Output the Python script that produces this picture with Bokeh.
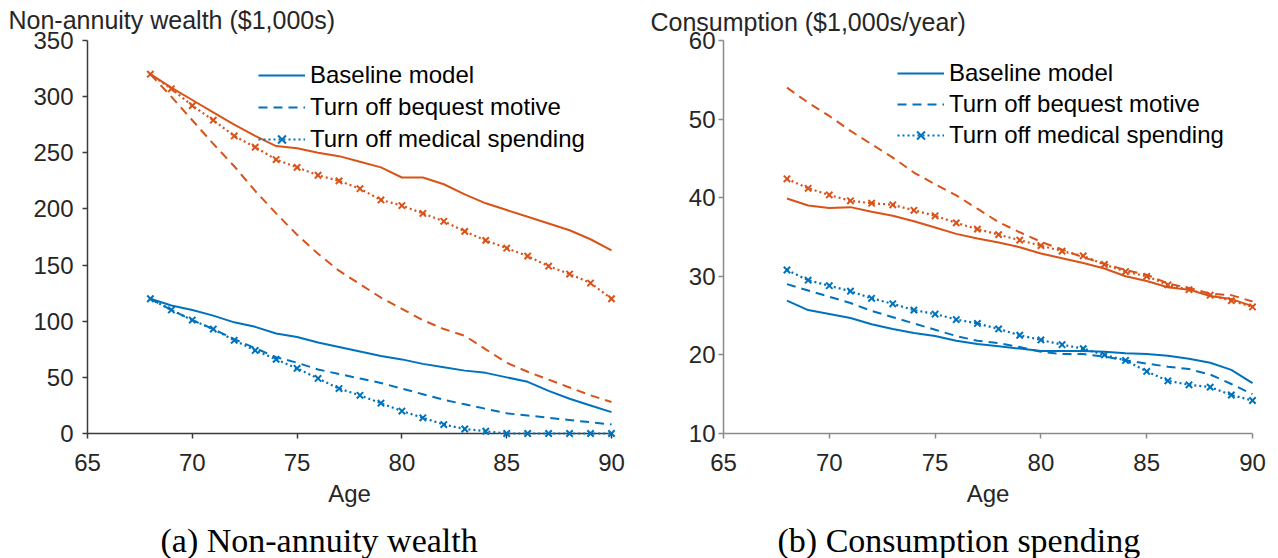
from bokeh.plotting import figure
from bokeh.layouts import row, column
from bokeh.models import Legend, LegendItem, Label, FixedTicker, Range1d
from bokeh.embed import file_html
from bokeh.resources import INLINE

ages = list(range(68, 91))

# Panel (a): non-annuity wealth ($1,000s) -- upper (orange) and lower (blue) groups
wealth_base_hi = [320, 308, 297, 286, 275, 265, 256, 254, 250, 247, 242, 237, 228, 228, 222, 213, 205, 199, 193, 187, 181, 173, 163]
wealth_nobeq_hi = [320, 300, 279, 258, 238, 216, 196, 177, 160, 145, 133, 121, 111, 101, 93, 87, 75, 63, 55, 48, 41, 34, 28]
wealth_nomed_hi = [320, 307, 292, 279, 265, 255, 244, 237, 230, 225, 218, 208, 203, 196, 189, 180, 172, 165, 158, 149, 142, 134, 120]
wealth_base_lo = [120, 114, 110, 105, 99, 95, 89, 86, 81, 77, 73, 69, 66, 62, 59, 56, 54, 50, 46, 38, 31, 25, 19]
wealth_nobeq_lo = [120, 110, 101, 93, 84, 76, 68, 63, 57, 53, 49, 45, 40, 35, 30, 26, 22, 18, 16, 14, 12, 10, 8]
wealth_nomed_lo = [120, 110, 101, 93, 83, 74, 66, 58, 49, 40, 34, 27, 20, 14, 8, 4, 2, 0, 0, 0, 0, 0, 0]

# Panel (b): consumption ($1,000s/year)
cons_base_hi = [39.9, 39.0, 38.7, 38.8, 38.2, 37.7, 37.0, 36.2, 35.4, 34.8, 34.3, 33.7, 32.9, 32.3, 31.7, 31.0, 30.0, 29.4, 28.6, 28.3, 27.5, 27.1, 26.2]
cons_nobeq_hi = [54.0, 52.1, 50.4, 48.5, 46.8, 45.1, 43.2, 41.7, 40.3, 38.6, 36.9, 35.6, 34.4, 33.4, 32.4, 31.6, 30.8, 30.2, 29.1, 28.5, 27.8, 27.6, 26.8]
cons_nomed_hi = [42.4, 41.2, 40.35, 39.6, 39.3, 39.1, 38.4, 37.7, 36.8, 36.0, 35.3, 34.6, 33.9, 33.2, 32.6, 31.5, 30.6, 30.0, 28.9, 28.3, 27.6, 26.9, 26.1]
cons_base_lo = [26.9, 25.7, 25.2, 24.7, 23.9, 23.3, 22.8, 22.4, 21.8, 21.4, 21.1, 20.8, 20.5, 20.5, 20.5, 20.4, 20.2, 20.1, 19.9, 19.5, 19.0, 18.1, 16.4]
cons_nobeq_lo = [29.0, 28.2, 27.4, 26.6, 25.6, 24.8, 24.0, 23.2, 22.4, 21.8, 21.5, 21.0, 20.4, 20.1, 20.1, 19.8, 19.3, 18.9, 18.5, 18.2, 17.5, 16.3, 15.0]
cons_nomed_lo = [30.8, 29.5, 28.8, 28.1, 27.2, 26.5, 25.7, 25.2, 24.5, 24.0, 23.3, 22.5, 21.9, 21.3, 20.8, 20.0, 19.3, 17.9, 16.7, 16.2, 15.9, 14.9, 14.2]

x_ticks = [65, 70, 75, 80, 85, 90]
wealth_ticks = [0, 50, 100, 150, 200, 250, 300, 350]
cons_ticks = [10, 20, 30, 40, 50, 60]
legend_labels = ["Baseline model", "Turn off bequest motive", "Turn off medical spending"]
y_titles = ["Non-annuity wealth ($1,000s)", "Consumption ($1,000s/year)"]
captions = ["(a) Non-annuity wealth", "(b) Consumption spending"]

BLUE = "#0072BD"
ORANGE = "#D95319"
SANS = "Liberation Sans"
SERIF = "Liberation Serif"
TXT = "#262626"
DASH = "9 6"
DOT = "2 3"

PAGE_W, PAGE_H = 1278, 558
W1, W2 = 648, 630
CAP_H = 45
MAIN_H = PAGE_H - CAP_H


def text_strip(width, height, texts):
    """A bare strip (frame = whole canvas, 1 data unit = 1 px) holding text labels."""
    s = figure(width=width, height=height, output_backend="svg", toolbar_location=None,
               x_range=Range1d(0, width), y_range=Range1d(0, height),
               x_axis_type=None, y_axis_type=None,
               min_border=0, min_border_left=0, min_border_right=0,
               min_border_top=0, min_border_bottom=0)
    s.outline_line_color = None
    s.grid.visible = False
    s.background_fill_color = "white"
    s.border_fill_color = "white"
    for (x, y, txt, font, size, color) in texts:
        s.add_layout(Label(x=x, y=y, text=txt, text_font=font, text_font_size=size,
                           text_color=color, text_baseline="middle", text_align="left"))
    return s


def make_panel(width, height, border_left, border_right, border_top, border_bottom,
               y_range, y_ticks, ytitle, title_offset, title_standoff,
               axis_color, tick_standoff, series, legend_loc, legend_spacing):
    p = figure(width=width, height=height, output_backend="svg", toolbar_location=None,
               x_range=Range1d(65, 90), y_range=Range1d(*y_range),
               min_border_left=border_left, min_border_right=border_right,
               min_border_top=border_top, min_border_bottom=border_bottom,
               title_location="above")
    p.outline_line_color = None
    p.grid.visible = False
    p.background_fill_color = "white"
    p.border_fill_color = "white"

    p.title.text = ytitle
    p.title.align = "left"
    p.title.vertical_align = "top"
    p.title.offset = title_offset
    p.title.standoff = title_standoff
    p.title.text_font = SANS
    p.title.text_font_size = "25px"
    p.title.text_font_style = "normal"
    p.title.text_color = TXT

    for ax in (p.xaxis[0], p.yaxis[0]):
        ax.axis_line_color = axis_color
        ax.axis_line_width = 1.5
        ax.major_tick_line_color = axis_color
        ax.major_tick_line_width = 1.5
        ax.major_tick_out = 5
        ax.major_tick_in = 0
        ax.minor_tick_line_color = None
        ax.major_label_text_font = SANS
        ax.major_label_text_font_size = "24px"
        ax.major_label_text_color = TXT
    p.xaxis[0].ticker = FixedTicker(ticks=x_ticks)
    p.yaxis[0].ticker = FixedTicker(ticks=y_ticks)
    p.xaxis[0].major_label_standoff = 15
    p.yaxis[0].major_label_standoff = tick_standoff
    p.xaxis[0].axis_label = "Age"
    p.xaxis[0].axis_label_text_font = SANS
    p.xaxis[0].axis_label_text_font_size = "24px"
    p.xaxis[0].axis_label_text_font_style = "normal"
    p.xaxis[0].axis_label_text_color = TXT
    p.xaxis[0].axis_label_standoff = 6

    base_hi, nobeq_hi, nomed_hi, base_lo, nobeq_lo, nomed_lo = series
    rs = []
    # orange (upper) group
    rs.append(p.line(ages, base_hi, color=ORANGE, line_width=2))
    rs.append(p.line(ages, nobeq_hi, color=ORANGE, line_width=2, line_dash=DASH))
    rs.append(p.line(ages, nomed_hi, color=ORANGE, line_width=2.2, line_dash=DOT))
    rs.append(p.scatter(ages, nomed_hi, marker="x", size=9, line_width=2, color=ORANGE))
    # blue (lower) group
    r1 = p.line(ages, base_lo, color=BLUE, line_width=2)
    r2 = p.line(ages, nobeq_lo, color=BLUE, line_width=2, line_dash=DASH)
    r3 = p.line(ages, nomed_lo, color=BLUE, line_width=2.2, line_dash=DOT)
    r4 = p.scatter(ages, nomed_lo, marker="x", size=9, line_width=2, color=BLUE)
    rs += [r1, r2, r3, r4]
    for r in rs:
        r.level = "annotation"   # draw over the axes

    legend = Legend(items=[LegendItem(label=legend_labels[0], renderers=[r1]),
                           LegendItem(label=legend_labels[1], renderers=[r2]),
                           LegendItem(label=legend_labels[2], renderers=[r3, r4])],
                    location=legend_loc)
    legend.label_text_font = SANS
    legend.label_text_font_size = "24px"
    legend.label_text_color = "black"
    legend.glyph_width = 47
    legend.glyph_height = 28
    legend.label_height = 28
    legend.spacing = legend_spacing
    legend.padding = 0
    legend.margin = 0
    legend.label_standoff = 5
    legend.border_line_color = None
    legend.background_fill_alpha = 0
    p.add_layout(legend)
    return p


# target frames in page pixels: (a) x 87..611, y 40..433 ; (b) x 723..1252, y 37..433
p1 = make_panel(W1, MAIN_H, 87, 37, 40, MAIN_H - 433, (0, 350), wealth_ticks,
                y_titles[0], 8 - 87, 9, "#3a3a3a", 9,
                (wealth_base_hi, wealth_nobeq_hi, wealth_nomed_hi,
                 wealth_base_lo, wealth_nobeq_lo, wealth_nomed_lo), (171, 280), 4)
p2 = make_panel(W2, MAIN_H, 75, 26, 37, MAIN_H - 433, (10, 60), cons_ticks,
                y_titles[1], 650 - (W1 + 75), 6, "#8a8a8a", 3,
                (cons_base_hi, cons_nobeq_hi, cons_nomed_hi,
                 cons_base_lo, cons_nobeq_lo, cons_nomed_lo), (174, 284), 3)

footer = text_strip(PAGE_W, CAP_H, [(160, PAGE_H - 540, captions[0], SERIF, "34px", "black"),
                                    (777, PAGE_H - 540, captions[1], SERIF, "34px", "black")])

layout = column(row(p1, p2), footer)
open("out.html", "w").write(file_html(layout, INLINE))
